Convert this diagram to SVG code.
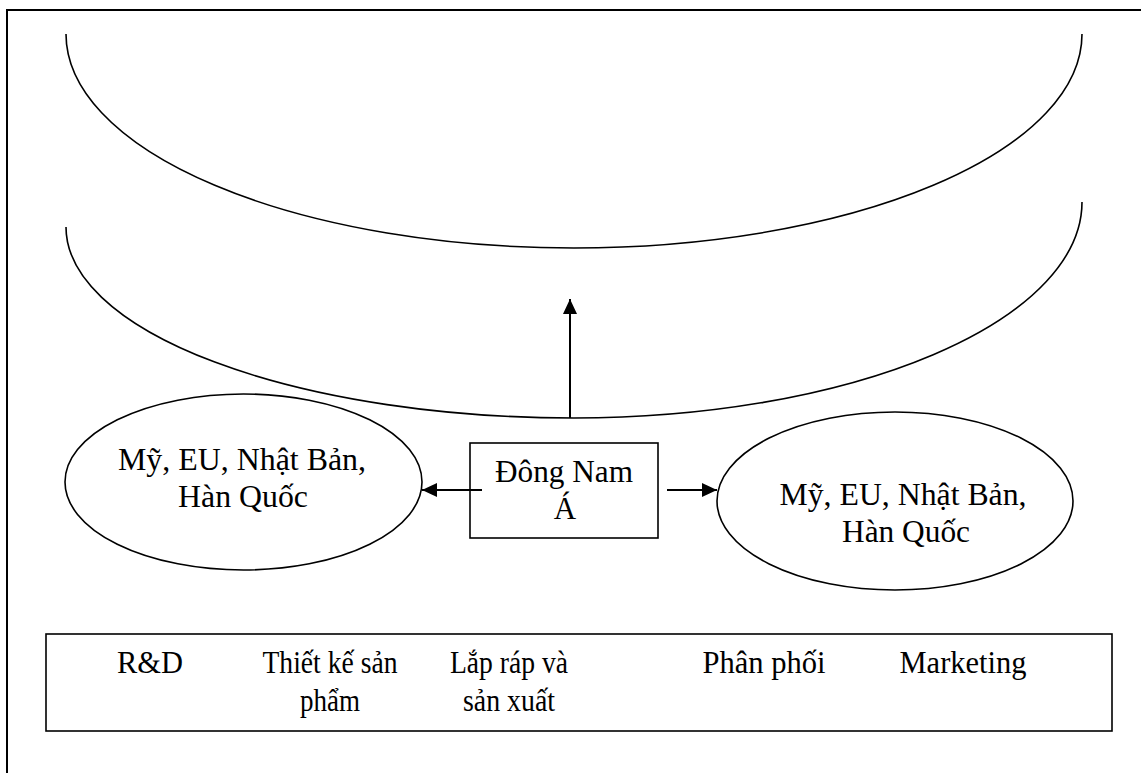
<svg xmlns="http://www.w3.org/2000/svg" width="1141" height="773" viewBox="0 0 1141 773">
<style>
.ln{fill:none;stroke:#000;stroke-width:1.6}
.bx{fill:#fff;stroke:#000;stroke-width:1.6}
.t{font-family:"Liberation Serif","Times New Roman",serif;font-size:31px;fill:#000;text-anchor:middle}
.cn{fill:none;stroke:#000;stroke-width:2}
</style>
<defs>
<marker id="ah" markerUnits="userSpaceOnUse" markerWidth="16" markerHeight="14" refX="15" refY="7" orient="auto">
<path d="M0,0 L15,7 L0,14 Z" fill="#000"/>
</marker>
</defs>
<rect width="1141" height="773" fill="#fff"/>
<rect x="7" y="10" width="1160" height="800" fill="none" stroke="#000" stroke-width="2"/>
<g id="arc-top">
<path class="ln" d="M66,34 A508,214 0 0 0 1082,34"/>
</g>
<g id="arc-middle">
<path class="ln" d="M66,227 A508,191 0 0 0 574,418 A508,216 0 0 0 1082,202"/>
</g>
<g id="left-region">
<ellipse class="bx" cx="243.5" cy="482" rx="178.5" ry="88"/>
<text class="t" x="242" y="470" textLength="248" lengthAdjust="spacingAndGlyphs">Mỹ, EU, Nhật Bản,</text>
<text class="t" x="243" y="507" textLength="130" lengthAdjust="spacingAndGlyphs">Hàn Quốc</text>
</g>
<g id="right-region">
<ellipse class="bx" cx="895" cy="501" rx="178" ry="89"/>
<text class="t" x="903" y="505" textLength="247" lengthAdjust="spacingAndGlyphs">Mỹ, EU, Nhật Bản,</text>
<text class="t" x="906" y="542" textLength="128" lengthAdjust="spacingAndGlyphs">Hàn Quốc</text>
</g>
<g id="southeast-asia">
<rect class="bx" x="470" y="443" width="188" height="95"/>
<text class="t" x="564" y="482" textLength="138" lengthAdjust="spacingAndGlyphs">Đông Nam</text>
<text class="t" x="565" y="519">Á</text>
</g>
<g id="value-chain">
<rect class="bx" x="46" y="634" width="1066" height="97"/>
<text class="t" x="150" y="673" textLength="66" lengthAdjust="spacingAndGlyphs">R&amp;D</text>
<text class="t" x="330" y="673" textLength="135" lengthAdjust="spacingAndGlyphs">Thiết kế sản</text>
<text class="t" x="330" y="711" textLength="60" lengthAdjust="spacingAndGlyphs">phẩm</text>
<text class="t" x="509" y="673" textLength="118" lengthAdjust="spacingAndGlyphs">Lắp ráp và</text>
<text class="t" x="509" y="711" textLength="92" lengthAdjust="spacingAndGlyphs">sản xuất</text>
<text class="t" x="764" y="673" textLength="123" lengthAdjust="spacingAndGlyphs">Phân phối</text>
<text class="t" x="963" y="673" textLength="127" lengthAdjust="spacingAndGlyphs">Marketing</text>
</g>
<g id="connectors">
<line class="cn" x1="570" y1="418" x2="570" y2="299" marker-end="url(#ah)"/>
<line class="cn" x1="482" y1="490" x2="422" y2="490" marker-end="url(#ah)"/>
<line class="cn" x1="667" y1="490" x2="717" y2="490" marker-end="url(#ah)"/>
</g>
</svg>
